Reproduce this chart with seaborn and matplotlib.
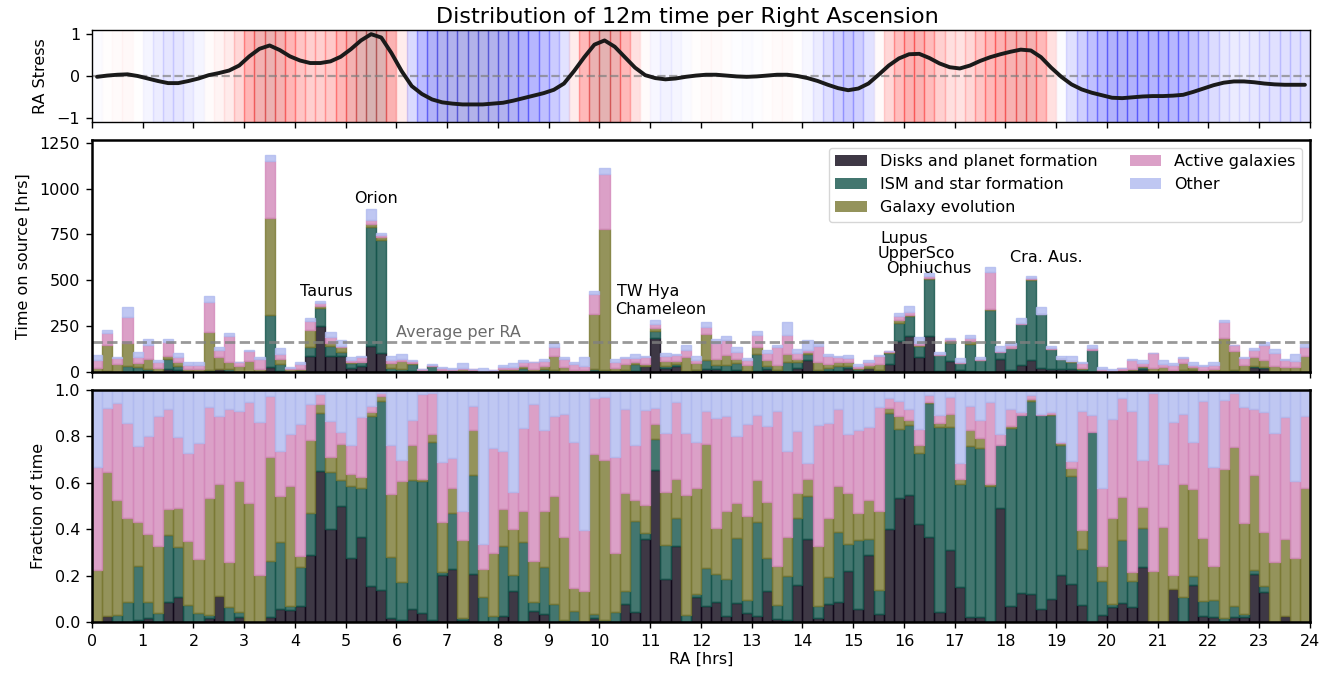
import numpy as np
import pandas as pd
import matplotlib
matplotlib.use("Agg")
import matplotlib.pyplot as plt
from matplotlib.patches import Patch
from matplotlib.colors import Normalize
import seaborn as sns

# ---------------------------------------------------------------- data
categories = ["Disks and planet formation", "ISM and star formation",
              "Galaxy evolution", "Active galaxies", "Other"]
colors = ["#0e0617", "#14544b", "#797832", "#d388ba", "#b0baef"]

# RA bins of 0.2 h
n_bins = 120
ra_edges = np.linspace(0, 24, n_bins + 1)
ra_centers = 0.5 * (ra_edges[:-1] + ra_edges[1:])

# total time on source per RA bin [hrs]
total_hours = [
    95, 229, 81, 353, 111, 181, 63, 181, 106, 52,
    52, 412, 138, 213, 57, 122, 84, 1181, 133, 30,
    52, 294, 385, 219, 176, 84, 90, 891, 756, 86,
    99, 68, 14, 41, 30, 20, 47, 16, 20, 11,
    36, 47, 63, 57, 73, 156, 81, 57, 84, 439,
    1111, 73, 81, 100, 90, 283, 106, 100, 149, 86,
    272, 181, 197, 138, 79, 224, 122, 149, 272, 127,
    176, 165, 100, 90, 95, 41, 68, 95, 116, 321,
    358, 192, 538, 111, 186, 79, 202, 84, 573, 143,
    158, 294, 525, 353, 143, 90, 90, 57, 149, 25,
    14, 20, 73, 68, 106, 63, 47, 84, 52, 36,
    57, 283, 149, 84, 133, 165, 127, 73, 100, 154,
]

# cumulative fraction of time reached by each science category (stacked)
cumfrac_disks = [
    0, .026, 0, 0, .007, .017, 0, .087, .109, 0,
    0, .017, .113, 0, .022, 0, 0, .022, .057, .052,
    .068, .291, .652, .403, .500, .277, .365, .157, .138, .017,
    .007, .055, .039, .007, .204, .230, .007, .209, 0, 0,
    .026, .135, 0, .046, .033, 0, 0, 0, 0, .016,
    0, 0, .078, .043, .357, .657, .187, .326, 0, .110,
    .070, .087, .026, .083, .039, .026, .135, .013, .009, .161,
    .357, .016, .077, .087, .222, .054, .287, .036, .400, .535,
    .548, .422, .365, .043, .309, .152, .023, .023, 0, .493,
    .070, .126, .122, .057, .100, .204, .165, .074, 0, .032,
    .065, .083, .065, .239, 0, 0, .141, 0, .161, .026,
    .022, 0, .022, .022, .209, .130, 0, .026, 0, 0,
]
cumfrac_ism = [
    0, .026, .032, .088, .243, .087, .039, .377, .322, .074,
    .039, .032, .113, .065, .045, 0, 0, .264, .343, .071,
    .239, .468, .901, .648, .614, .587, .577, .887, .952, .281,
    .174, .613, .609, .775, .217, .470, .019, .633, .106, .026,
    .328, .204, .343, .087, .239, .078, .007, .048, 0, .035,
    .010, .045, .135, .435, .384, .791, .330, .449, .030, .119,
    .235, .206, .186, .361, .097, .430, .274, .074, .199, .448,
    .545, .071, .196, .388, .335, .352, .357, .139, .901, .830,
    .848, .728, .945, .839, .839, .596, .757, .749, .587, .765,
    .835, .891, .954, .891, .891, .765, .628, .314, .817, .178,
    .078, .352, .178, .404, 0, 0, .141, .109, .200, .091,
    .096, .019, .070, .035, .226, .157, 0, .026, 0, 0,
]
cumfrac_galevo = [
    .225, .648, .526, .448, .432, .380, .326, .487, .490, .351,
    .272, .535, .594, .258, .609, .514, .203, .713, .545, .586,
    .283, .783, .941, .712, .767, .636, .626, .906, .975, .552,
    .610, .762, .617, .812, .430, .578, .352, .828, .230, .296,
    .486, .403, .478, .262, .478, .545, .367, .148, .135, .723,
    .700, .297, .554, .526, .506, .854, .561, .617, .548, .578,
    .767, .406, .478, .513, .457, .613, .517, .241, .367, .557,
    .617, .326, .449, .587, .558, .471, .528, .480, .922, .886,
    .871, .765, .949, .857, .896, .617, .828, .794, .597, .765,
    .843, .891, .962, .891, .896, .770, .662, .396, .817, .243,
    .449, .539, .217, .496, .219, .410, .204, .593, .574, .361,
    .241, .661, .754, .428, .632, .388, .258, .359, .277, .578,
]
cumfrac_agn = [
    .667, .922, .943, .857, .757, .800, .887, .917, .796, .730,
    .770, .926, .887, .919, .910, .948, .862, .974, .739, .809,
    .852, .939, .983, .865, .817, .761, .883, .930, .986, .765,
    .699, .870, .983, .987, .691, .709, .478, .930, .335, .752,
    .739, .561, .835, .939, .826, .887, .896, .774, .396, .965,
    .970, .713, .917, .765, .913, .922, .813, .948, .813, .778,
    .909, .878, .887, .800, .852, .891, .843, .909, .739, .822,
    .687, .848, .857, .917, .809, .826, .839, .926, .965, .952,
    .917, .830, .978, .891, .970, .687, .930, .870, .948, .809,
    .917, .904, .978, .896, .904, .778, .696, .909, .891, .578,
    .874, .965, .909, .700, .987, .683, .861, .896, .778, .952,
    .670, .957, .987, .926, .917, .904, .813, .883, .609, .887,
]

# smoothed RA pressure index at each bin centre
ra_stress = [
    -0.02, 0.01, 0.03, 0.04, 0.00, -0.06, -0.12, -0.17, -0.17, -0.12,
    -0.06, 0.02, 0.07, 0.13, 0.25, 0.47, 0.65, 0.73, 0.62, 0.47,
    0.37, 0.31, 0.31, 0.35, 0.46, 0.64, 0.85, 1.00, 0.92, 0.55,
    0.12, -0.24, -0.43, -0.56, -0.63, -0.66, -0.68, -0.68, -0.68, -0.66,
    -0.64, -0.59, -0.53, -0.47, -0.41, -0.33, -0.18, 0.12, 0.45, 0.75,
    0.85, 0.70, 0.45, 0.20, 0.02, -0.05, -0.08, -0.06, -0.02, 0.01,
    0.03, 0.03, 0.01, -0.01, -0.02, -0.01, 0.01, 0.03, 0.03, 0.00,
    -0.05, -0.12, -0.21, -0.29, -0.34, -0.30, -0.18, 0.03, 0.25, 0.42,
    0.52, 0.53, 0.43, 0.30, 0.21, 0.18, 0.25, 0.36, 0.45, 0.52,
    0.58, 0.63, 0.61, 0.45, 0.20, -0.02, -0.20, -0.32, -0.40, -0.46,
    -0.52, -0.53, -0.51, -0.49, -0.48, -0.48, -0.47, -0.45, -0.38, -0.30,
    -0.22, -0.16, -0.13, -0.13, -0.15, -0.18, -0.20, -0.21, -0.21, -0.21,
]

# labelled star-forming regions: (name, RA [h], hours)
region_names = ["Taurus", "Orion", "TW Hya", "Chameleon", "Lupus",
                "UpperSco", "Ophiuchus", "Cra. Aus."]
region_ra = [4.62, 5.6, 10.95, 11.2, 16.0, 16.25, 16.49, 18.8]
region_hours = [440, 945, 440, 342, 728, 646, 565, 624]

# ---------------------------------------------------------------- tidy table
total = np.asarray(total_hours, float)
cum = np.vstack([np.zeros_like(total), cumfrac_disks, cumfrac_ism,
                 cumfrac_galevo, cumfrac_agn, np.ones_like(total)])
share = np.clip(np.diff(cum, axis=0), 0, None)
hours = share * total

long_df = pd.DataFrame({
    "ra": np.tile(ra_centers, len(categories)),
    "category": np.repeat(categories, len(ra_centers)),
    "hours": hours.ravel(),
})
avg_per_ra = total.mean()

# ---------------------------------------------------------------- style
sns.set_theme(style="ticks")
plt.rcParams["font.family"] = ["DejaVu Sans"]
plt.rcParams.update({
    "font.size": 11.5, "axes.labelsize": 11.5, "axes.titlesize": 16,
    "xtick.labelsize": 11.5, "ytick.labelsize": 11.5, "legend.fontsize": 11.5,
    "xtick.major.size": 4.5, "ytick.major.size": 4.5,
    "xtick.major.pad": 4.0, "ytick.major.pad": 4.0,
    "xtick.direction": "out", "ytick.direction": "out",
    "text.color": "black", "axes.labelcolor": "black",
    "xtick.color": "black", "ytick.color": "black",
    "axes.labelpad": 6.5,
})

fig = plt.figure(figsize=(13.37, 6.77), dpi=100)
ax_top = fig.add_axes([0.0688, 0.8198, 0.9110, 0.1359])
ax_mid = fig.add_axes([0.0688, 0.4505, 0.9110, 0.3427])
ax_bot = fig.add_axes([0.0688, 0.0812, 0.9110, 0.3427])

palette = dict(zip(categories, colors))
hue_order = categories[::-1]   # seaborn stacks the last level at the bottom


def tidy_bars(ax):
    for p in ax.patches:
        if p.get_height() > 0:
            p.set_edgecolor(p.get_facecolor())
            p.set_linewidth(1.0)
        else:
            p.set_linewidth(0)


# ---------------------------------------------------------------- RA stress
cmap = plt.cm.seismic
norm = Normalize(vmin=-1, vmax=1)
for lo, hi, s in zip(ra_edges[:-1], ra_edges[1:], ra_stress):
    ax_top.axvspan(lo, hi, color=cmap(norm(s)), alpha=0.3, lw=1)
ax_top.axhline(0, color="grey", ls="--", lw=1.6, alpha=0.7)
sns.lineplot(x=ra_centers, y=ra_stress, color="k", lw=2.8, ax=ax_top)
ax_top.set_ylim(-1.1, 1.1)
ax_top.set_yticks([-1, 0, 1])
ax_top.set_ylabel("RA Stress")
ax_top.set_title("Distribution of 12m time per Right Ascension", x=0.489, pad=5)

# ---------------------------------------------------------------- hours
hist_kws = dict(data=long_df, x="ra", weights="hours", hue="category",
                hue_order=hue_order, palette=palette, bins=n_bins,
                binrange=(0, 24), alpha=0.8, legend=False)
sns.histplot(multiple="stack", ax=ax_mid, **hist_kws)
tidy_bars(ax_mid)
ax_mid.axhline(avg_per_ra, color="grey", ls="--", lw=2, alpha=0.8)
ax_mid.text(6.0, avg_per_ra + 8, "Average per RA", color="0.42",
            ha="left", va="bottom")
for name, x, y in zip(region_names, region_ra, region_hours):
    ax_mid.text(x, y, name, ha="center", va="center")
ax_mid.set_ylim(0, 1265)
ax_mid.set_yticks([0, 250, 500, 750, 1000, 1250])
ax_mid.set_ylabel("Time on source [hrs]")
handles = [Patch(facecolor=c, alpha=0.8, edgecolor="none", label=l)
           for l, c in zip(categories, colors)]
ax_mid.legend(handles=handles, loc="upper right", ncol=2, frameon=True)

# ---------------------------------------------------------------- fractions
sns.histplot(multiple="fill", ax=ax_bot, **hist_kws)
tidy_bars(ax_bot)
ax_bot.set_ylim(0, 1)
ax_bot.set_yticks(np.arange(0, 1.01, 0.2))
ax_bot.set_ylabel("Fraction of time")
ax_bot.set_xlabel("RA [hrs]", labelpad=2)

for ax, lw in ((ax_top, 1.0), (ax_mid, 1.8), (ax_bot, 1.8)):
    ax.set_xlim(0, 24)
    ax.set_xticks(np.arange(0, 25, 1))
    for sp in ax.spines.values():
        sp.set_visible(True)
        sp.set_linewidth(lw)
        sp.set_color("black")
    ax.tick_params(width=1.0, color="black")
for ax in (ax_top, ax_mid):
    ax.tick_params(labelbottom=False)
    ax.set_xlabel("")

fig.savefig("out.png", dpi=100)
